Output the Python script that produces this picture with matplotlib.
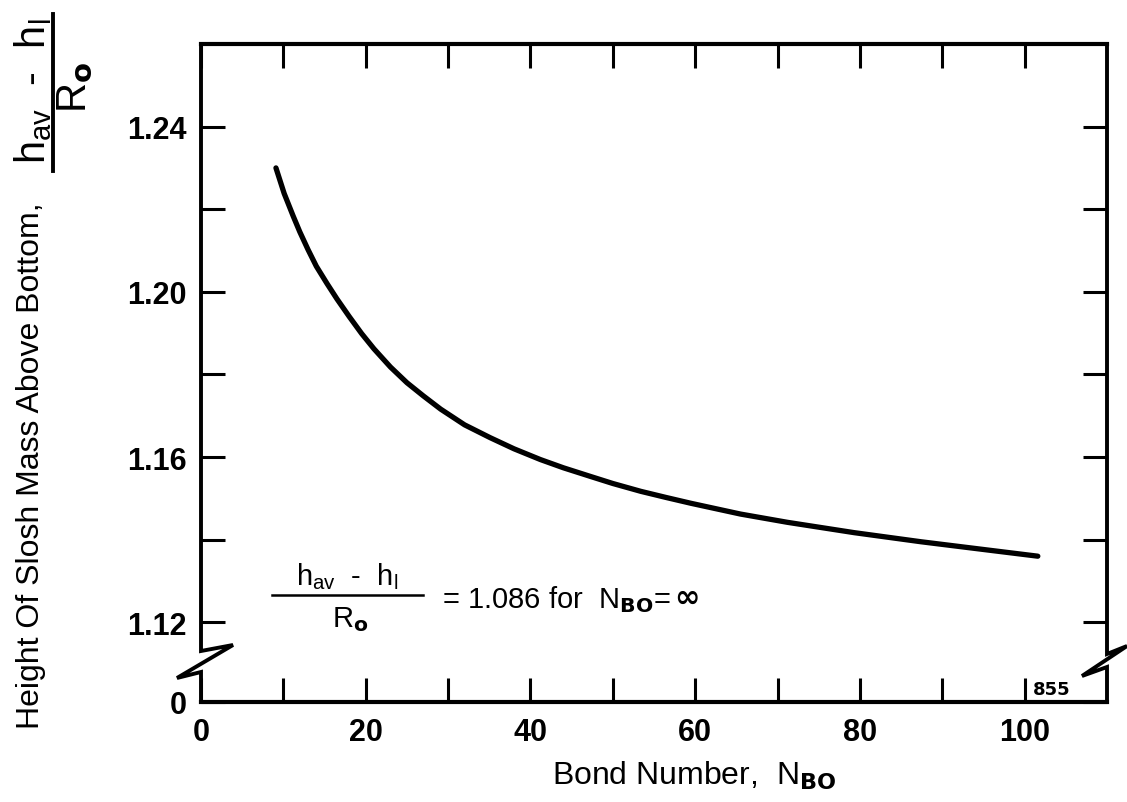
import matplotlib
matplotlib.use("Agg")
import matplotlib.pyplot as plt
from matplotlib import font_manager
from matplotlib.lines import Line2D

# ---------------- data ----------------
bond_number = [9.1, 10.1, 11.2, 12.0, 13.0, 14.0, 15.3, 16.5, 18.0, 19.5, 21.0,
               23.0, 25.0, 27.0, 29.1, 32.0, 35.1, 38.0, 41.2, 44.0, 47.3,
               50.0, 53.4, 56.5, 59.5, 65.5, 71.2, 79.3, 87.4, 95.5, 101.6]
height_ratio = [1.2300, 1.2238, 1.2183, 1.2145, 1.2102, 1.2062, 1.2020, 1.1983,
                1.1940, 1.1899, 1.1862, 1.1818, 1.1780, 1.1748, 1.1716, 1.1678,
                1.1647, 1.1620, 1.1594, 1.1574, 1.1553, 1.1536, 1.1517, 1.1502,
                1.1488, 1.1462, 1.1442, 1.1417, 1.1395, 1.1375, 1.1360]

x_major_ticks = [0, 20, 40, 60, 80, 100]
x_tick_labels = ["0", "20", "40", "60", "80", "100"]
x_minor_ticks = [10, 30, 50, 70, 90]
y_major_ticks = [1.12, 1.16, 1.20, 1.24]
y_tick_labels = ["1.12", "1.16", "1.20", "1.24"]
y_minor_ticks = [1.14, 1.18, 1.22]
y_zero_label = "0"
limit_value_text = "1.086"

# ---------------- layout ----------------
W, H = 1127, 803
ZERO_POS = 1.1007      # display position of the broken-axis zero
Y_TOP = 1.26
X_MAX = 110

avail = {f.name for f in font_manager.fontManager.ttflist}
FONT = next((f for f in ["Liberation Sans", "Arial", "DejaVu Sans"] if f in avail), "DejaVu Sans")
plt.rcParams["font.family"] = [FONT, "DejaVu Sans"]
plt.rcParams["mathtext.fontset"] = "custom"
plt.rcParams["mathtext.rm"] = FONT
plt.rcParams["mathtext.it"] = FONT
plt.rcParams["mathtext.bf"] = "DejaVu Sans:bold"

fig = plt.figure(figsize=(W / 100, H / 100), dpi=100)
fig.patch.set_facecolor("white")


def fx(px):
    return px / W


def fy(py):
    return 1 - py / H


ax = fig.add_axes([fx(201), fy(703), (1107 - 201) / W, (703 - 45) / H])
ax.plot(bond_number, height_ratio, color="black", lw=3.8,
        solid_capstyle="round", solid_joinstyle="round")
ax.set_xlim(0, X_MAX)
ax.set_ylim(ZERO_POS, Y_TOP)

for s in ("left", "right"):
    ax.spines[s].set_visible(False)
for s in ("top", "bottom"):
    ax.spines[s].set_linewidth(3)

ax.set_xticks(x_major_ticks, x_tick_labels)
ax.set_xticks(x_minor_ticks, minor=True)
ax.set_yticks([ZERO_POS] + y_major_ticks, [y_zero_label] + y_tick_labels)
ax.set_yticks(y_minor_ticks, minor=True)
ax.tick_params(axis="both", which="both", direction="in", length=17, width=2.2,
               top=True, right=True, color="black")
ax.tick_params(axis="x", which="major", labelsize=22, pad=10.5)
ax.tick_params(axis="y", which="major", labelsize=22, pad=10.5)
for lbl in ax.get_xticklabels() + ax.get_yticklabels():
    lbl.set_fontweight("bold")

# broken vertical axes with zig-zag
left_pts = [(201, 45), (201, 652), (233, 646), (177, 679), (201, 673), (201, 703)]
right_pts = [(1107, 45), (1107, 655), (1127, 647), (1082, 677), (1107, 668), (1107, 703)]
for pts in (left_pts, right_pts):
    fig.add_artist(Line2D([fx(p[0]) for p in pts], [fy(p[1]) for p in pts],
                          transform=fig.transFigure, color="black", lw=2.8,
                          solid_joinstyle="miter", solid_capstyle="projecting"))

# axis labels
fig.text(fx(31), fy(466), "Height Of Slosh Mass Above Bottom,", rotation=90,
         ha="center", va="center", fontsize=23)
fig.text(fx(45), fy(91), r"h$_\mathrm{av}$  -  h$_\mathrm{l}$", rotation=90,
         rotation_mode="anchor", ha="center", va="baseline", fontsize=30)
fig.add_artist(Line2D([fx(53), fx(53)], [fy(15), fy(172)], transform=fig.transFigure,
                      color="black", lw=2.8))
fig.text(fx(86), fy(87), r"R$_\mathbf{o}$", rotation=90,
         rotation_mode="anchor", ha="center", va="baseline", fontsize=30)

fig.text(fx(552), fy(785), r"Bond Number,  N$_\mathbf{BO}$", ha="left",
         va="baseline", fontsize=23)

# in-plot annotation
fig.text(fx(347), fy(585), r"h$_\mathrm{av}$  -  h$_\mathrm{l}$", ha="center",
         va="baseline", fontsize=21)
fig.add_artist(Line2D([fx(272), fx(423)], [fy(596), fy(596)], transform=fig.transFigure,
                      color="black", lw=1.8))
fig.text(fx(350), fy(627), r"R$_\mathbf{o}$", ha="center", va="baseline", fontsize=21)
fig.text(fx(442), fy(608), "= " + limit_value_text + " for  N$_\\mathbf{BO}$=",
         ha="left", va="baseline", fontsize=21)
fig.text(fx(674), fy(598), "\u221e", ha="left", va="center", fontsize=22,
         fontweight="bold", family="DejaVu Sans")

fig.text(fx(1033), fy(695), "855", fontsize=13, fontweight="bold",
         family="DejaVu Sans", ha="left", va="baseline")

fig.savefig("out.png", dpi=100, facecolor="white")
